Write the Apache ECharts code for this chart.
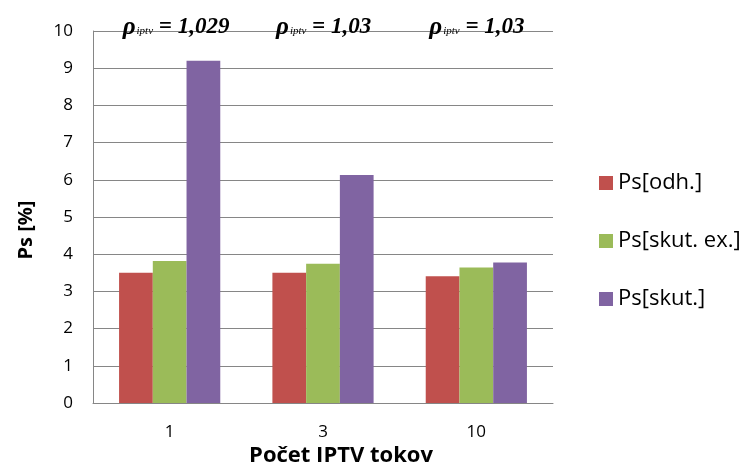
<!DOCTYPE html>
<html><head><meta charset="utf-8">
<script src="https://cdn.jsdelivr.net/npm/echarts@6/dist/echarts.min.js"></script>
<style>html,body{margin:0;padding:0;background:#fff}#c{width:748px;height:468px}</style>
</head><body><div id="c"></div>
<script>
const categories = ['1', '3', '10'];
const psOdh = [3.50, 3.50, 3.41];
const psSkutEx = [3.82, 3.74, 3.64];
const psSkut = [9.20, 6.13, 3.78];
const rhoLabels = ['1,029', '1,03', '1,03'];
const seriesNames = ['Ps[odh.]', 'Ps[skut. ex.]', 'Ps[skut.]'];
const yTicks = [0,1,2,3,4,5,6,7,8,9,10];

const chart = echarts.init(document.getElementById('c'), null, {renderer:'canvas'});
const font = 'Open Sans, DejaVu Sans, sans-serif';
const serif = 'Liberation Serif, serif';
const rich = {
  rho:{fontFamily:serif,fontStyle:'italic',fontWeight:'bold',fontSize:25,color:'#000'},
  sub:{fontFamily:serif,fontStyle:'italic',fontSize:11,color:'#000',padding:[8,0,0,1]},
  val:{fontFamily:serif,fontStyle:'italic',fontWeight:'bold',fontSize:23,color:'#000'}
};
chart.setOption({
  animation:false,
  grid:{left:93,right:195,top:31,bottom:65,containLabel:false,outerBoundsMode:'none'},
  legend:{
    orient:'vertical', left:594, top:167, itemGap:36, itemWidth:14, itemHeight:14,
    icon:'rect', data:seriesNames,
    textStyle:{fontFamily:font,fontSize:22,color:'#000'}
  },
  xAxis:{
    type:'category', data:categories,
    axisLine:{lineStyle:{color:'#868686'}},
    axisTick:{show:false},
    axisLabel:{fontFamily:font,fontSize:17,color:'#000',margin:21},
    name:'Počet IPTV tokov', nameLocation:'middle', nameGap:42, nameMoveOverlap:false,
    nameTextStyle:{fontFamily:font,fontSize:22,fontWeight:'bold',color:'#000',padding:[0,0,0,36]}
  },
  yAxis:{
    type:'value', min:0, max:10, interval:1,
    axisLine:{show:true,lineStyle:{color:'#868686'}},
    axisTick:{show:false},
    splitLine:{lineStyle:{color:'#868686'}},
    axisLabel:{fontFamily:font,fontSize:17,color:'#000',margin:20,
      formatter:v=>yTicks.includes(v)?String(v):''},
    name:'Ps [%]', nameLocation:'middle', nameGap:57, nameRotate:90, nameMoveOverlap:false,
    nameTextStyle:{fontFamily:font,fontSize:20,fontWeight:'bold',color:'#000',padding:[0,26,0,0]}
  },
  series:[
    {name:seriesNames[0],type:'bar',data:psOdh,itemStyle:{color:'#C0504D'},barGap:'0%',barCategoryGap:'34%'},
    {name:seriesNames[1],type:'bar',data:psSkutEx,itemStyle:{color:'#9BBB59'},barGap:'0%',barCategoryGap:'34%',
      markPoint:{
        symbol:'circle',symbolSize:0,
        data:categories.map((c,i)=>({coord:[c,10],value:rhoLabels[i]})),
        label:{show:true,position:'top',distance:-9,align:'left',offset:[-47,0],
          formatter:p=>'{rho|ρ}{sub|iptv}{val| = '+p.value+'}',rich:rich}
      }},
    {name:seriesNames[2],type:'bar',data:psSkut,itemStyle:{color:'#8064A2'},barGap:'0%',barCategoryGap:'34%'}
  ]
});
</script></body></html>
